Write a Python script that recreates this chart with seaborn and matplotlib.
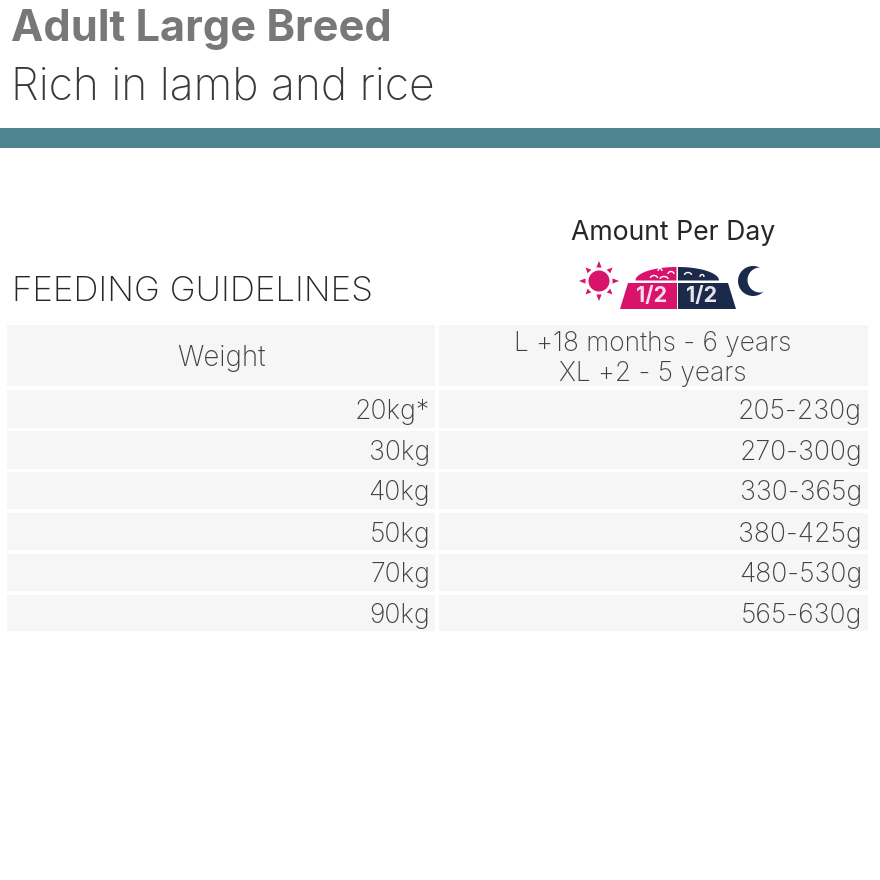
import matplotlib
matplotlib.use('Agg')
import matplotlib.pyplot as plt
from matplotlib.patches import Rectangle, Polygon, Circle, Arc
import numpy as np
import seaborn as sns

title = 'Adult Large Breed'
subtitle = 'Rich in lamb and rice'
section = 'FEEDING GUIDELINES'
amount_label = 'Amount Per Day'
portion_label = '1/2'
header_weight = 'Weight'
header_age = ['L +18 months - 6 years', 'XL +2 - 5 years']
weights = ['20kg*', '30kg', '40kg', '50kg', '70kg', '90kg']
amounts = ['205-230g', '270-300g', '330-365g', '380-425g', '480-530g', '565-630g']

sns.set_theme(style='white')
plt.rcParams['font.family'] = ['Inter', 'DejaVu Sans']

fig = plt.figure(figsize=(8.8, 8.8), dpi=100)
ax = fig.add_axes([0, 0, 1, 1])
ax.set_xlim(0, 880)
ax.set_ylim(880, 0)
ax.axis('off')

TEXT = '#3f4045'
PINK = '#d9126b'
NAVY = '#1b2a4a'
CELL = '#f6f6f7'

# header text and band
ax.text(11, 30, title, fontsize=31.2, fontweight='bold', color='#77787a', va='center')
ax.text(11, 88, subtitle, fontsize=32, fontweight='light', color='#38393d', va='center')
ax.add_patch(Rectangle((0, 128), 880, 20, color='#4e8490', lw=0))
ax.text(12, 292, section, fontsize=25.2, fontweight='light', color='#26272b', va='center')
ax.text(673, 233, amount_label, fontsize=19.2, color='#26272b', va='center', ha='center')

# sun
sx, sy = 599, 281
ax.add_patch(Circle((sx, sy), 10.5, color=PINK, lw=0))
for deg in range(0, 360, 45):
    r = np.radians(deg)
    u = np.array([np.cos(r), np.sin(r)])
    n = np.array([-u[1], u[0]])
    c = np.array([sx, sy])
    reach = 20 if deg % 90 == 0 else 19
    ax.add_patch(Polygon([c + u * 13.5 + n * 2.6, c + u * 13.5 - n * 2.6, c + u * reach], color=PINK, lw=0))

# bowl
ax.add_patch(Polygon([(628, 283), (676.5, 283), (676.5, 309), (620, 309)], color=PINK, lw=0))
ax.add_patch(Polygon([(678, 283), (728, 283), (736, 309), (678, 309)], color=NAVY, lw=0))
t = np.linspace(0, np.pi / 2, 40)
ax.add_patch(Polygon(np.column_stack([676.5 - 41 * np.cos(t), 280.5 - 13.5 * np.sin(t)]).tolist() + [(676.5, 280.5)], color=PINK, lw=0))
ax.add_patch(Polygon(np.column_stack([678 + 41 * np.cos(t), 280.5 - 13.5 * np.sin(t)]).tolist() + [(678, 280.5)], color=NAVY, lw=0))
for x, y, w in [(654, 278, 7), (664, 279, 8), (671, 274, 6), (688, 275, 7), (702, 277, 4), (660, 271, 4)]:
    ax.add_patch(Arc((x, y), w, 5, theta1=180, theta2=360, color='white', lw=1))
ax.text(652, 296, portion_label, fontsize=15.5, fontweight='bold', color='#f6dce8', ha='center', va='center')
ax.text(702, 296, portion_label, fontsize=15.5, fontweight='bold', color='#e4e6ec', ha='center', va='center')

# moon
ax.add_patch(Circle((753, 281), 15, color=NAVY, lw=0))
ax.add_patch(Circle((760, 280), 12.5, color='white', lw=0))

# table
tops = [325, 390, 431, 472, 513, 554, 595]
bottoms = [386, 428, 469, 509, 550, 591, 631]
for top, b in zip(tops, bottoms):
    ax.add_patch(Rectangle((7, top), 428, b - top, color=CELL, lw=0))
    ax.add_patch(Rectangle((439, top), 429, b - top, color=CELL, lw=0))

ax.text(221, 359, header_weight, fontsize=20, fontweight='light', color=TEXT, ha='center', va='center')
ax.text(653, 344, header_age[0], fontsize=19, fontweight='light', color=TEXT, ha='center', va='center')
ax.text(653, 374, header_age[1], fontsize=19, fontweight='light', color=TEXT, ha='center', va='center')

for i, (w, a) in enumerate(zip(weights, amounts)):
    y = (tops[i + 1] + bottoms[i + 1]) / 2 + 3
    ax.text(430, y, w, fontsize=19.2, fontweight='light', color=TEXT, ha='right', va='center')
    ax.text(862, y, a, fontsize=19.2, fontweight='light', color=TEXT, ha='right', va='center')

fig.savefig('out.png', dpi=100, facecolor='white')
